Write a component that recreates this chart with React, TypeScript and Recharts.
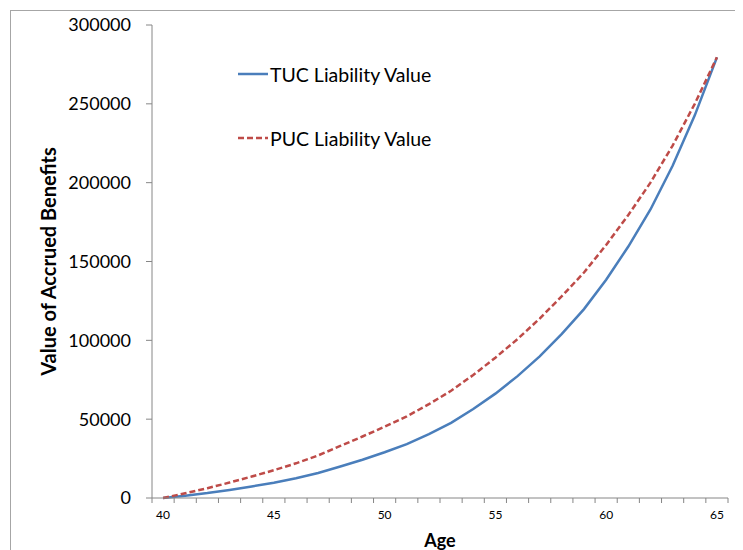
import { Line, LineChart, XAxis, YAxis } from "recharts";

const ages = [40, 41, 42, 43, 44, 45, 46, 47, 48, 49, 50, 51, 52, 53, 54, 55, 56, 57, 58, 59, 60, 61, 62, 63, 64, 65];
const tucValues = [
  0, 1500, 3100, 5100, 7300, 9700, 12500, 15900, 20000, 24300, 29000, 34200, 40500, 47700, 56400, 66200, 77300,
  89800, 104100, 119800, 138400, 159500, 183000, 210700, 242700, 279500,
];
const pucValues = [
  0, 3000, 6200, 9800, 13600, 17600, 22000, 27000, 33000, 39000, 45200, 51800, 59500, 68000, 78000, 89000, 100800,
  113800, 128000, 143000, 160500, 179500, 200000, 223500, 250000, 279500,
];
const ageLabels = [40, 45, 50, 55, 60, 65];
const yTicks = [0, 50000, 100000, 150000, 200000, 250000, 300000];

const BLUE = "#4a7ebb";
const RED = "#be4b48";
const AXIS = "#868686";
const FONT = "Lato, 'Open Sans', sans-serif";

// tick marks sit between categories, like the spreadsheet's category axis
const tickMarks = [...ages.map((a) => a - 0.5), ages[ages.length - 1] + 0.5];
const xTicks = [...tickMarks, ...ageLabels].sort((a, b) => a - b);

const data = ages.map((age, i) => ({ age, tuc: tucValues[i], puc: pucValues[i] }));

function AgeTick({ x, y, payload }: any) {
  const v = payload.value;
  const isMark = Math.abs(v - Math.round(v)) > 0.1;
  if (isMark) {
    return <line x1={x} x2={x} y1={y} y2={y + 5} stroke={AXIS} strokeWidth={1} />;
  }
  return (
    <text x={x} y={y + 21} textAnchor="middle" fontSize={12} fontFamily={FONT} fill="#000">
      {v}
    </text>
  );
}

function LegendRow({ label, color, dash }: { label: string; color: string; dash?: string }) {
  return (
    <div style={{ display: "flex", alignItems: "center", height: 32 }}>
      <svg width={31} height={6} style={{ marginRight: 1 }}>
        <line x1={0} x2={30} y1={3} y2={3} stroke={color} strokeWidth={2.5} strokeDasharray={dash} />
      </svg>
      <span style={{ fontSize: 19.5, fontFamily: FONT, color: "#000", whiteSpace: "nowrap" }}>{label}</span>
    </div>
  );
}

export default function App() {
  return (
    <div style={{ position: "relative", width: 735, height: 542, overflow: "hidden", background: "#fff" }}>
      <div
        style={{
          position: "absolute",
          left: 2,
          top: 2,
          width: 800,
          height: 600,
          border: "1px solid #a6a6a6",
        }}
      />
      <div style={{ position: "absolute", left: 0, top: 0 }}>
        <LineChart width={735} height={542} data={data} margin={{ top: 17, right: 15, left: 0, bottom: 0 }}>
          <XAxis
            dataKey="age"
            type="number"
            domain={[39.5, 65.5]}
            ticks={xTicks}
            interval={0}
            height={52}
            tickLine={false}
            tickSize={0}
            tickMargin={0}
            tick={AgeTick}
            stroke={AXIS}
            label={() => (
              <text x={432} y={539} textAnchor="middle" fontSize={18} fontWeight="bold" fontFamily={FONT} fill="#000">
                Age
              </text>
            )}
          />
          <YAxis
            width={144}
            domain={[0, 300000]}
            ticks={yTicks}
            interval={0}
            tickSize={6}
            tickMargin={15}
            stroke={AXIS}
            tick={{ fontSize: 18, fontFamily: FONT, fill: "#000" }}
            label={() => (
              <text
                x={48}
                y={253.5}
                transform="rotate(-90 48 253.5)"
                textAnchor="middle"
                fontSize={20}
                fontWeight="bold"
                fontFamily={FONT}
                fill="#000"
              >
                Value of Accrued Benefits
              </text>
            )}
          />
          <Line dataKey="tuc" stroke={BLUE} strokeWidth={2.5} dot={false} isAnimationActive={false} />
          <Line
            dataKey="puc"
            stroke={RED}
            strokeWidth={2.5}
            strokeDasharray="6 3"
            dot={false}
            isAnimationActive={false}
          />
        </LineChart>
      </div>
      <div style={{ position: "absolute", left: 230, top: 50 }}>
        <LegendRow label="TUC Liability Value" color={BLUE} />
        <div style={{ height: 32 }} />
        <LegendRow label="PUC Liability Value" color={RED} dash="6 3" />
      </div>
    </div>
  );
}
